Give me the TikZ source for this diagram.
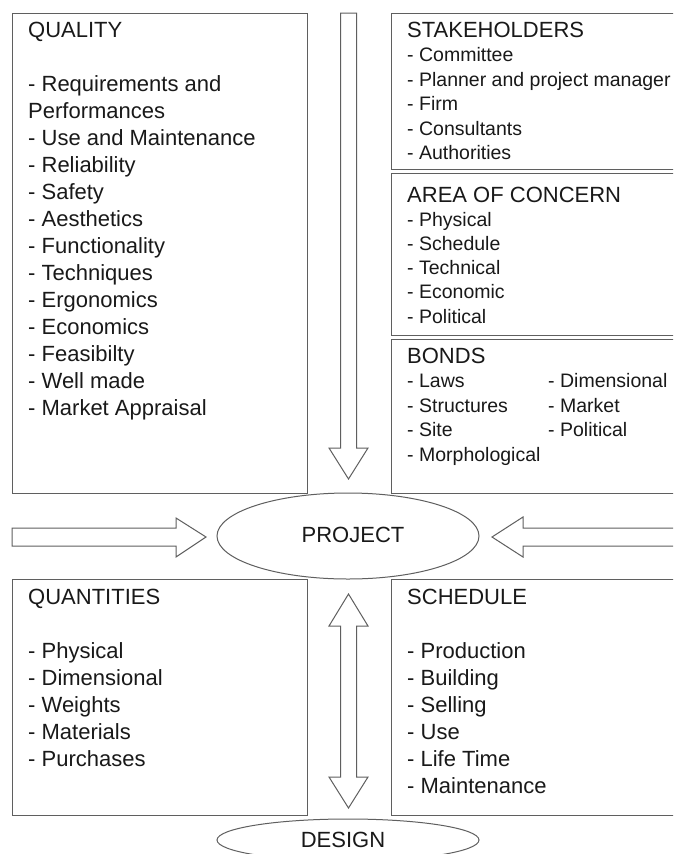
\documentclass[tikz,border=0pt]{standalone}
\usepackage{fontspec}
\setmainfont{Liberation Sans}
\definecolor{linec}{RGB}{95,95,95}
\definecolor{textc}{RGB}{25,25,25}
\tikzset{
  box/.style={draw=linec, line width=1pt, anchor=north west, inner sep=0pt, outer sep=0pt},
  hdr/.style={anchor=base west, inner sep=0pt, text=textc, font=\fontsize{22}{27}\selectfont},
  bigitm/.style={anchor=base west, inner sep=0pt, text=textc, font=\fontsize{22}{27}\selectfont},
  smallitm/.style={anchor=base west, inner sep=0pt, text=textc, font=\fontsize{19.5}{24}\selectfont},
  oval/.style={draw=linec, line width=1pt, ellipse, inner sep=0pt, text=textc, font=\fontsize{22}{27}\selectfont},
  blockarrow/.style={draw=linec, line width=1pt, fill=white, line join=miter}
}
\usetikzlibrary{shapes.geometric}
\begin{document}
\begin{tikzpicture}[x=1pt, y=-1pt]
\useasboundingbox (0,0) rectangle (673,854);
\clip (0,0) rectangle (673,854);
\fill[white] (0,0) rectangle (673,854);

% boxes
\node[box, minimum width=295pt, minimum height=480pt] (quality) at (12,13) {};
\node[box, minimum width=300pt, minimum height=156pt] (stake) at (391,13) {};
\node[box, minimum width=300pt, minimum height=162pt] (area) at (391,173) {};
\node[box, minimum width=300pt, minimum height=154pt] (bonds) at (391,339) {};
\node[box, minimum width=295pt, minimum height=236pt] (quant) at (12,579) {};
\node[box, minimum width=300pt, minimum height=236pt] (sched) at (391,579) {};

% ellipses
\node[oval, minimum width=262pt, minimum height=86pt] (project) at (348,536) {};
\node[text=textc, inner sep=0pt, anchor=base, font=\fontsize{22}{27}\selectfont] (projecttext) at (353,542) {PROJECT};
\node[oval, minimum width=262pt, minimum height=42pt] (design) at (348,840) {};
\node[text=textc, inner sep=0pt, anchor=base, font=\fontsize{22}{27}\selectfont] (designtext) at (343,847) {DESIGN};

% block arrows
\draw[blockarrow] (340.5,13) -- (356.5,13) -- (356.5,448) -- (368,448) -- (348.5,479)
  -- (329,448) -- (340.5,448) -- cycle;
\draw[blockarrow] (348.5,594) -- (368,626) -- (356.5,626) -- (356.5,777) -- (368,777)
  -- (348.5,808) -- (329,777) -- (340.5,777) -- (340.5,626) -- (329,626) -- cycle;
\draw[blockarrow] (12,528) -- (176,528) -- (176,518) -- (206,537) -- (176,557)
  -- (176,546) -- (12,546) -- cycle;
\draw[blockarrow] (700,528) -- (523,528) -- (523,517) -- (492,537) -- (523,557)
  -- (523,546) -- (700,546);

% QUALITY
\node[hdr] (qh) at (28,37) {QUALITY};
\foreach \t [count=\i from 2] in {- Requirements and, Performances, - Use and Maintenance,
  - Reliability, - Safety, - Aesthetics, - Functionality, - Techniques, - Ergonomics,
  - Economics, - Feasibilty, - Well made, - Market Appraisal}
  \node[bigitm] (q\i) at (28,37+27*\i) {\t};

% STAKEHOLDERS
\node[hdr] (sh) at (407,37) {STAKEHOLDERS};
\foreach \t [count=\i from 1] in {- Committee, - Planner and project manager, - Firm,
  - Consultants, - Authorities}
  \node[smallitm] (s\i) at (407,37+24.5*\i) {\t};

% AREA OF CONCERN
\node[hdr] (ah) at (407,202) {AREA OF CONCERN};
\foreach \t [count=\i from 1] in {- Physical, - Schedule, - Technical, - Economic, - Political}
  \node[smallitm] (a\i) at (407,202+24.2*\i) {\t};

% BONDS
\node[hdr] (bh) at (407,363) {BONDS};
\foreach \t [count=\i from 1] in {- Laws, - Structures, - Site, - Morphological}
  \node[smallitm] (b\i) at (407,363+24.6*\i) {\t};
\foreach \t [count=\i from 1] in {- Dimensional, - Market, - Political}
  \node[smallitm] (c\i) at (548,363+24.6*\i) {\t};

% QUANTITIES
\node[hdr] (nh) at (28,604) {QUANTITIES};
\foreach \t [count=\i from 2] in {- Physical, - Dimensional, - Weights, - Materials, - Purchases}
  \node[bigitm] (n\i) at (28,604+27*\i) {\t};

% SCHEDULE
\node[hdr] (dh) at (407,604) {SCHEDULE};
\foreach \t [count=\i from 2] in {- Production, - Building, - Selling, - Use, - Life Time, - Maintenance}
  \node[bigitm] (d\i) at (407,604+27*\i) {\t};
\end{tikzpicture}
\end{document}
